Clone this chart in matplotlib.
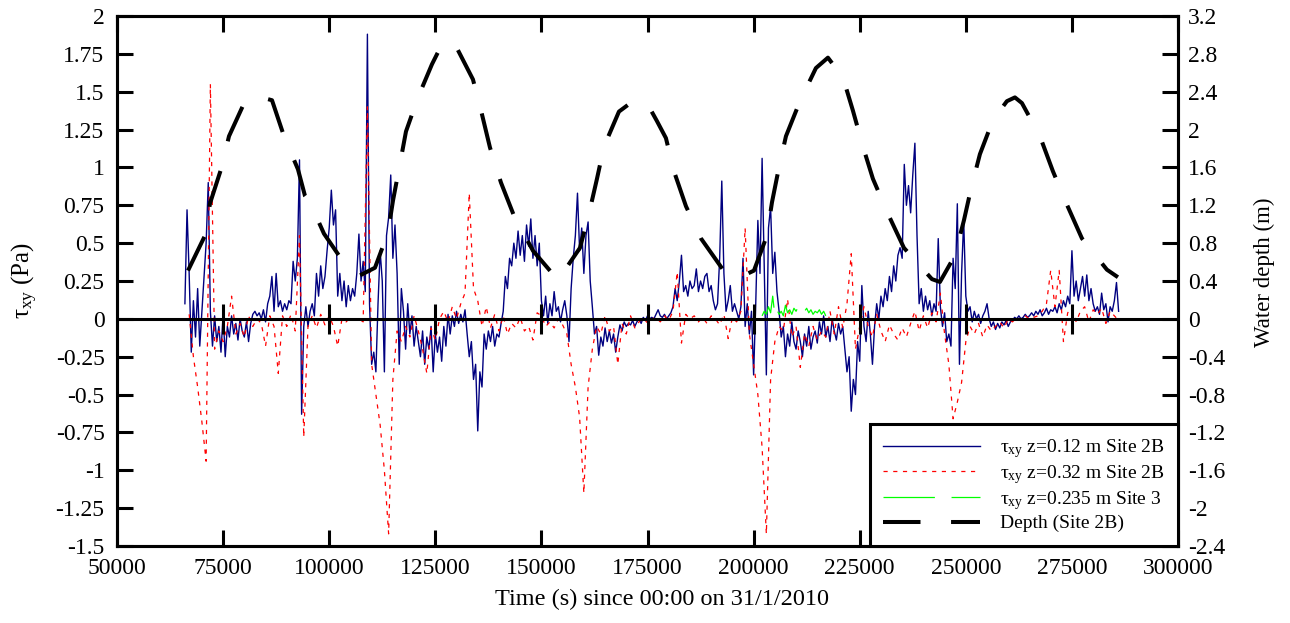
import numpy as np
import matplotlib
matplotlib.use("Agg")
import matplotlib.pyplot as plt
from matplotlib import ticker

plt.rcParams['font.family'] = ['Liberation Serif', 'DejaVu Serif']
plt.rcParams['mathtext.fontset'] = 'custom'
plt.rcParams['mathtext.rm'] = 'Liberation Serif'
plt.rcParams['mathtext.it'] = 'Liberation Serif'
plt.rcParams['mathtext.bf'] = 'Liberation Serif:bold'
plt.rcParams['axes.unicode_minus'] = False
plt.rcParams['lines.scale_dashes'] = False

# shear stress, Site 2B, z=0.12 m  (one value every 500 s from t=66000 s)
blue_start, blue_step = 66000, 500
blue_tau = [
    0.10, 0.72, 0.30, -0.22, 0.12, -0.12, 0.20, -0.18, 0.05, 0.28,
    0.50, 0.90, 0.05, -0.18, 0.02, -0.15, -0.05, -0.22, 0.03, -0.25,
    -0.05, -0.12, 0.02, -0.10, -0.03, -0.14, 0.00, -0.08, -0.12, -0.02,
    -0.15, -0.03, 0.03, 0.05, 0.02, 0.04, 0.00, 0.06, -0.02, 0.10,
    0.15, 0.28, 0.05, 0.30, 0.08, 0.12, 0.05, 0.10, 0.06, 0.12,
    0.10, 0.38, 0.25, 0.40, 1.05, -0.63, -0.05, 0.08, -0.05, 0.05,
    0.10, 0.02, 0.30, 0.15, 0.35, 0.20, 0.28, 0.45, 0.60, 0.85,
    0.62, 0.72, 0.15, 0.30, 0.12, 0.25, 0.08, 0.22, 0.12, 0.20,
    0.15, 0.30, 0.56, 0.25, 0.38, 0.18, 1.88, 0.10, -0.30, -0.22,
    -0.35, 0.10, 0.45, 0.25, -0.35, 0.55, 0.67, 0.95, 0.40, 0.62,
    0.30, -0.30, 0.20, 0.05, -0.20, 0.10, -0.10, 0.02, -0.18, -0.05,
    -0.15, -0.25, -0.08, -0.30, -0.12, -0.20, -0.05, -0.35, -0.10, -0.22,
    -0.12, -0.28, -0.05, -0.18, 0.03, -0.10, 0.02, -0.05, 0.05, -0.03,
    0.03, -0.02, 0.06, -0.10, -0.25, -0.15, -0.40, -0.30, -0.74, -0.35,
    -0.45, -0.10, -0.20, -0.08, -0.15, -0.05, -0.18, -0.10, -0.12, -0.03,
    0.05, 0.28, 0.20, 0.40, 0.35, 0.50, 0.40, 0.58, 0.42, 0.55,
    0.38, 0.62, 0.48, 0.66, 0.40, 0.55, 0.35, 0.50, 0.12, 0.02,
    0.15, -0.03, 0.10, 0.02, 0.18, 0.05, 0.08, -0.02, 0.06, 0.12,
    0.02, -0.15, 0.20, 0.40, 0.55, 0.83, 0.45, 0.60, 0.30, 0.55,
    0.64, 0.25, 0.08, -0.10, -0.05, -0.24, -0.12, -0.18, -0.06, -0.15,
    -0.08, -0.16, -0.10, -0.22, -0.12, -0.04, -0.08, -0.02, -0.05, -0.03,
    -0.04, -0.01, -0.05, -0.02, 0.00, -0.03, 0.01, -0.01, 0.02, 0.00,
    0.01, 0.00, 0.03, 0.06, 0.02, 0.01, 0.03, 0.00, 0.02, 0.04,
    0.08, 0.20, 0.12, 0.25, 0.42, 0.18, 0.22, 0.15, 0.25, 0.20,
    0.22, 0.33, 0.18, 0.25, 0.20, 0.28, 0.30, 0.18, 0.22, 0.12,
    0.06, 0.10, 0.40, 0.91, 0.30, 0.05, 0.12, 0.22, 0.05, 0.10,
    0.05, 0.00, 0.08, 0.40, -0.05, 0.10, -0.10, 0.05, -0.37, 0.10,
    0.65, 0.30, 1.06, 0.35, -0.37, 0.60, 0.74, 0.30, 0.44, 0.18,
    0.05, -0.12, -0.05, -0.25, -0.10, -0.18, -0.02, -0.15, -0.20, -0.08,
    -0.15, -0.25, -0.10, -0.18, -0.05, -0.20, -0.12, -0.08, -0.16, -0.02,
    -0.10, 0.02, -0.12, -0.05, -0.15, 0.00, -0.08, -0.14, -0.03, -0.10,
    -0.05, -0.20, -0.35, -0.25, -0.61, -0.40, -0.50, -0.15, -0.28, 0.22,
    -0.05, -0.15, 0.05, -0.10, -0.30, -0.05, 0.10, 0.00, 0.15, 0.08,
    0.20, 0.12, 0.28, 0.18, 0.35, 0.25, 0.42, 0.47, 0.40, 1.02,
    0.75, 0.88, 0.70, 0.95, 1.16, 0.55, 0.10, 0.20, 0.05, 0.15,
    0.06, 0.12, 0.02, 0.10, 0.05, 0.53, 0.08, -0.05, 0.04, -0.15,
    -0.10, -0.18, 0.40, 0.20, 0.76, -0.30, 0.30, 0.65, 0.15, 0.05,
    0.08, -0.02, 0.05, 0.00, 0.03, -0.03, 0.02, 0.05, 0.10, 0.00,
    -0.05, -0.02, -0.07, -0.03, -0.06, -0.02, -0.04, -0.01, -0.05, -0.02,
    -0.01, 0.01, 0.00, 0.02, 0.00, 0.01, 0.03, 0.01, 0.02, 0.04,
    0.02, 0.05, 0.03, 0.06, 0.02, 0.04, 0.07, 0.03, 0.06, 0.05,
    0.08, 0.04, 0.10, 0.06, 0.12, 0.08, 0.15, 0.10, 0.45, 0.15,
    0.25, 0.12, 0.20, 0.28, 0.15, 0.29, 0.12, 0.20, 0.10, 0.05,
    0.08, 0.03, 0.17, 0.06, 0.10, -0.02, 0.08, 0.05, 0.12, 0.24,
    0.05,
]

# shear stress, Site 2B, z=0.32 m  (one value every 1000 s from t=67000 s)
red_start, red_step = 67000, 1000
red_tau = [
    0.03, -0.25, -0.45, -0.68, -0.94, 1.55, -0.20, -0.08, -0.15, -0.05,
    0.15, -0.10, -0.03, -0.12, 0.02, -0.05, 0.00, -0.03, -0.18, 0.02,
    -0.05, -0.36, 0.02, -0.05, 0.03, -0.08, 0.55, -0.78, -0.05, 0.02,
    -0.06, 0.03, -0.04, 0.02, -0.05, -0.18, 0.00, -0.02, 0.01, -0.01,
    0.00, -0.02, 1.40, -0.30, -0.50, -0.70, -1.00, -1.42, -0.40, -0.08,
    -0.15, -0.05, -0.12, 0.02, -0.08, -0.20, -0.36, -0.06, -0.14, 0.00,
    0.05, -0.02, 0.08, 0.00, 0.10, 0.17, 0.83, 0.20, 0.12, -0.05,
    0.08, -0.06, 0.03, -0.08, 0.02, -0.10, -0.03, -0.06, 0.01, -0.08,
    -0.05, -0.14, 0.04, 0.02, -0.05, -0.02, -0.06, 0.00, -0.04, -0.10,
    -0.30, -0.45, -0.65, -1.15, -0.45, -0.20, -0.05, -0.10, 0.02, -0.08,
    -0.05, -0.30, -0.03, -0.10, 0.02, -0.06, -0.02, 0.01, -0.03, 0.00,
    0.01, -0.02, 0.02, -0.01, 0.05, 0.31, -0.16, 0.03, 0.00, 0.02,
    -0.02, 0.01, -0.03, 0.02, 0.00, -0.04, 0.03, -0.13, 0.01, -0.02,
    0.05, 0.60, -0.10, -0.30, -0.50, -0.85, -1.42, -0.40, -0.15, -0.05,
    -0.08, 0.13, -0.12, -0.05, -0.32, -0.10, -0.18, -0.05, -0.14, -0.08,
    -0.12, 0.05, -0.10, 0.08, -0.06, 0.10, 0.43, -0.20, -0.05, 0.08,
    -0.05, -0.12, 0.03, -0.08, -0.15, -0.04, -0.10, -0.14, -0.06, -0.12,
    -0.03, 0.05, -0.08, 0.02, -0.06, 0.04, -0.02, 0.17, -0.10, -0.30,
    -0.66, -0.55, -0.42, -0.15, -0.05, -0.10, -0.03, -0.12, -0.04, -0.08,
    -0.05, -0.02, -0.06, 0.00, -0.02, 0.01, -0.01, 0.02, 0.00, 0.01,
    0.02, 0.05, 0.10, 0.32, 0.08, 0.32, -0.15, 0.04, 0.07, -0.02,
    0.05, 0.08, -0.02, 0.06, 0.03, 0.07, -0.03, 0.05, 0.02, -0.01,
]

# shear stress, Site 3, z=0.235 m  (every 500 s from t=202000 s)
green_start, green_step = 202000, 500
green_tau = [
    0.02, 0.05, 0.03, 0.08, 0.04, 0.15, 0.02, 0.06, 0.03, 0.05,
    0.02, 0.09, 0.04, 0.06, 0.03, 0.07, 0.05, 0.08, 0.04, 0.06,
    0.05, 0.07, 0.04, 0.06, 0.03, 0.05, 0.04, 0.06, 0.03, 0.05,
    0.02,
]

# water depth at Site 2B
depth_t = [
    66730, 70730, 71910, 74500, 76390, 80160, 83220, 86520, 89350, 92640,
    94290, 95470, 98770, 104420, 107250, 110780, 113850, 115030, 116680, 118090,
    120920, 124210, 126330, 128450, 129870, 133870, 136000, 137880, 140470, 143530,
    148010, 153900, 159080, 161200, 163090, 164740, 168270, 171570, 174870, 177220,
    179340, 181230, 184060, 187590, 193250, 196310, 200080, 203140, 204320, 205970,
    207620, 210920, 214680, 217510, 221050, 223400, 225760, 228110, 231650, 235420,
    242010, 243900, 247430, 249550, 251200, 253320, 256380, 259680, 261570, 263220,
    267460, 270520, 273590, 277360, 283240, 285840,
]
depth_m = [
    0.51, 0.88, 1.22, 1.58, 1.93, 2.30, 2.35, 2.31, 1.93, 1.58,
    1.30, 1.23, 0.90, 0.53, 0.46, 0.54, 0.91, 1.25, 1.64, 1.98,
    2.34, 2.69, 2.88, 2.94, 2.88, 2.53, 2.16, 1.81, 1.44, 1.09,
    0.72, 0.41, 0.75, 1.11, 1.48, 1.82, 2.19, 2.30, 2.28, 2.09,
    1.91, 1.56, 1.19, 0.85, 0.49, 0.43, 0.51, 0.88, 1.23, 1.60,
    1.93, 2.30, 2.65, 2.76, 2.55, 2.20, 1.82, 1.48, 1.11, 0.75,
    0.42, 0.39, 0.67, 1.04, 1.37, 1.74, 2.10, 2.30, 2.34, 2.28,
    1.93, 1.56, 1.23, 0.85, 0.52, 0.44,
]

x_ticks = np.arange(50000, 300001, 25000)

blue_t = blue_start + blue_step * np.arange(len(blue_tau))
red_t = red_start + red_step * np.arange(len(red_tau))
green_t = green_start + green_step * np.arange(len(green_tau))


def fmt(v, pos):
    s = f"{round(v, 2):g}"
    return "0" if s == "-0" else s


fig = plt.figure(figsize=(12.9, 6.23), dpi=100)
ax = fig.add_axes([0.0907, 0.1236, 0.8225, 0.8507])
ax2 = ax.twinx()

l1, = ax.plot(blue_t, blue_tau, color='#000080', lw=1.0, zorder=2)
l2, = ax.plot(red_t, red_tau, color='red', lw=0.9, dashes=(3, 4), zorder=3)
l3, = ax.plot(green_t, green_tau, color='#00ff00', lw=0.9, dashes=(37, 12), zorder=4)
ax.axhline(0, color='k', lw=2.2, zorder=5)
ax.vlines(x_ticks[1:-1], -0.1, 0.1, color='k', lw=2.2, zorder=5)
l4, = ax2.plot(depth_t, depth_m, color='k', lw=2.9, dashes=(27, 22),
               dash_capstyle='butt', zorder=6)

ax.set_xlim(50000, 300000)
ax.set_ylim(-1.5, 2)
ax2.set_ylim(-2.4, 3.2)
ax.set_xticks(x_ticks)
ax.yaxis.set_major_locator(ticker.MultipleLocator(0.25))
ax2.yaxis.set_major_locator(ticker.MultipleLocator(0.4))
ax.yaxis.set_major_formatter(ticker.FuncFormatter(fmt))
ax2.yaxis.set_major_formatter(ticker.FuncFormatter(fmt))

ax.tick_params(axis='x', direction='in', length=11.5, width=2.2, top=True,
               labelsize=17, pad=9)
ax.tick_params(axis='y', direction='in', length=11.5, width=2.2, right=False,
               labelsize=17, pad=9)
ax2.tick_params(axis='y', direction='in', length=11.5, width=2.2,
                labelsize=17, pad=7)
for a in (ax, ax2):
    for sp in a.spines.values():
        sp.set_linewidth(2.2)

ax.set_xlabel('Time (s) since 00:00 on 31/1/2010', fontsize=17.5, labelpad=7)
ax.xaxis.label.set_x(0.514)
ax.set_ylabel(r'$\tau_{xy}$ (Pa)', fontsize=18, labelpad=11)
ax2.set_ylabel('Water depth (m)', fontsize=16.5, labelpad=21)
ax2.yaxis.label.set_y(0.517)

leg = ax2.legend([l1, l2, l3, l4],
                 [r'$\tau_{xy}$ z=0.12 m Site 2B', r'$\tau_{xy}$ z=0.32 m Site 2B',
                  r'$\tau_{xy}$ z=0.235 m Site 3', 'Depth (Site 2B)'],
                 loc='lower right', borderaxespad=0, fancybox=False, framealpha=1,
                 edgecolor='k', fontsize=14, handlelength=5, handletextpad=1,
                 labelspacing=0.15, borderpad=0.7)
leg.get_frame().set_linewidth(2.2)
leg.set_zorder(10)

fig.savefig('out.png', dpi=100)
